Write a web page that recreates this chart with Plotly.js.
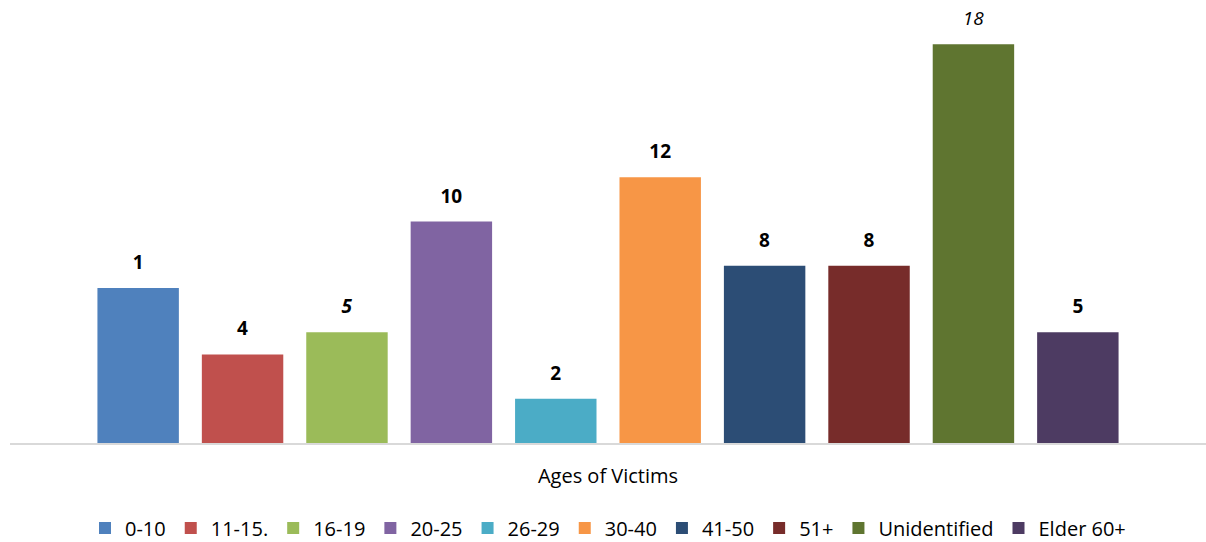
<!DOCTYPE html>
<html>
<head>
<meta charset="utf-8">
<script src="https://cdn.plot.ly/plotly-3.0.1.min.js"></script>
<style>
  html, body { margin: 0; padding: 0; background: #fff; }
  #chart { width: 1206px; height: 542px; }
</style>
</head>
<body>
<div id="chart"></div>
<script>
  // age groups, bar heights and the labels printed over them
  var groups = ['0-10', '11-15.', '16-19', '20-25', '26-29', '30-40', '41-50', '51+', 'Unidentified', 'Elder 60+'];
  var counts = [7, 4, 5, 10, 2, 12, 8, 8, 18, 5];
  var labels = ['1', '4', '5', '10', '2', '12', '8', '8', '18', '5'];
  var labelStyle = ['b', 'b', 'bi', 'b', 'b', 'b', 'b', 'b', 'i', 'b'];
  var colors = ['#4f81bd', '#c0504d', '#9bbb59', '#8064a2', '#4bacc6', '#f79646', '#2c4d75', '#772c2a', '#5f7530', '#4d3b62'];
  var category = 'Ages of Victims';

  // label in full size, followed by a small blank line that lifts it off the bar
  function styled(txt, st) {
    if (st.indexOf('i') >= 0) txt = '<i>' + txt + '</i>';
    if (st.indexOf('b') >= 0) txt = '<b>' + txt + '</b>';
    return '<span style="font-size:19px">' + txt + '</span><br> ';
  }

  var traces = [];
  groups.forEach(function (g, i) {
    traces.push({
      type: 'bar',
      name: g,
      x: [category],
      y: [counts[i]],
      text: [styled(labels[i], labelStyle[i])],
      textposition: 'outside',
      constraintext: 'none',
      textfont: { family: '"Open Sans", sans-serif', size: 10, color: '#000' },
      cliponaxis: false,
      marker: { color: colors[i] },
      hoverinfo: 'name+y'
    });
  });

  var layout = {
    width: 1206,
    height: 542,
    margin: { l: 10, r: 0, t: 0, b: 99 },
    barmode: 'group',
    bargap: 0.127,
    bargroupgap: 0.22,
    paper_bgcolor: '#fff',
    plot_bgcolor: '#fff',
    font: { family: '"Open Sans", sans-serif', color: '#000' },
    xaxis: {
      showticklabels: false,
      ticks: '',
      showline: true,
      linecolor: '#d9d9d9',
      linewidth: 2,
      automargin: false,
      title: { text: 'Ages of Victims', font: { size: 20 }, standoff: 25 }
    },
    yaxis: {
      range: [0, 20],
      visible: false,
      showgrid: false,
      zeroline: false,
      automargin: false
    },
    showlegend: true,
    legend: {
      orientation: 'h',
      x: 0.5,
      xanchor: 'center',
      yref: 'container',
      y: 0.026,
      yanchor: 'middle',
      font: { size: 20 },
      itemwidth: 30,
      traceorder: 'normal'
    }
  };

  Plotly.newPlot('chart', traces, layout, { displayModeBar: false });
</script>
</body>
</html>
